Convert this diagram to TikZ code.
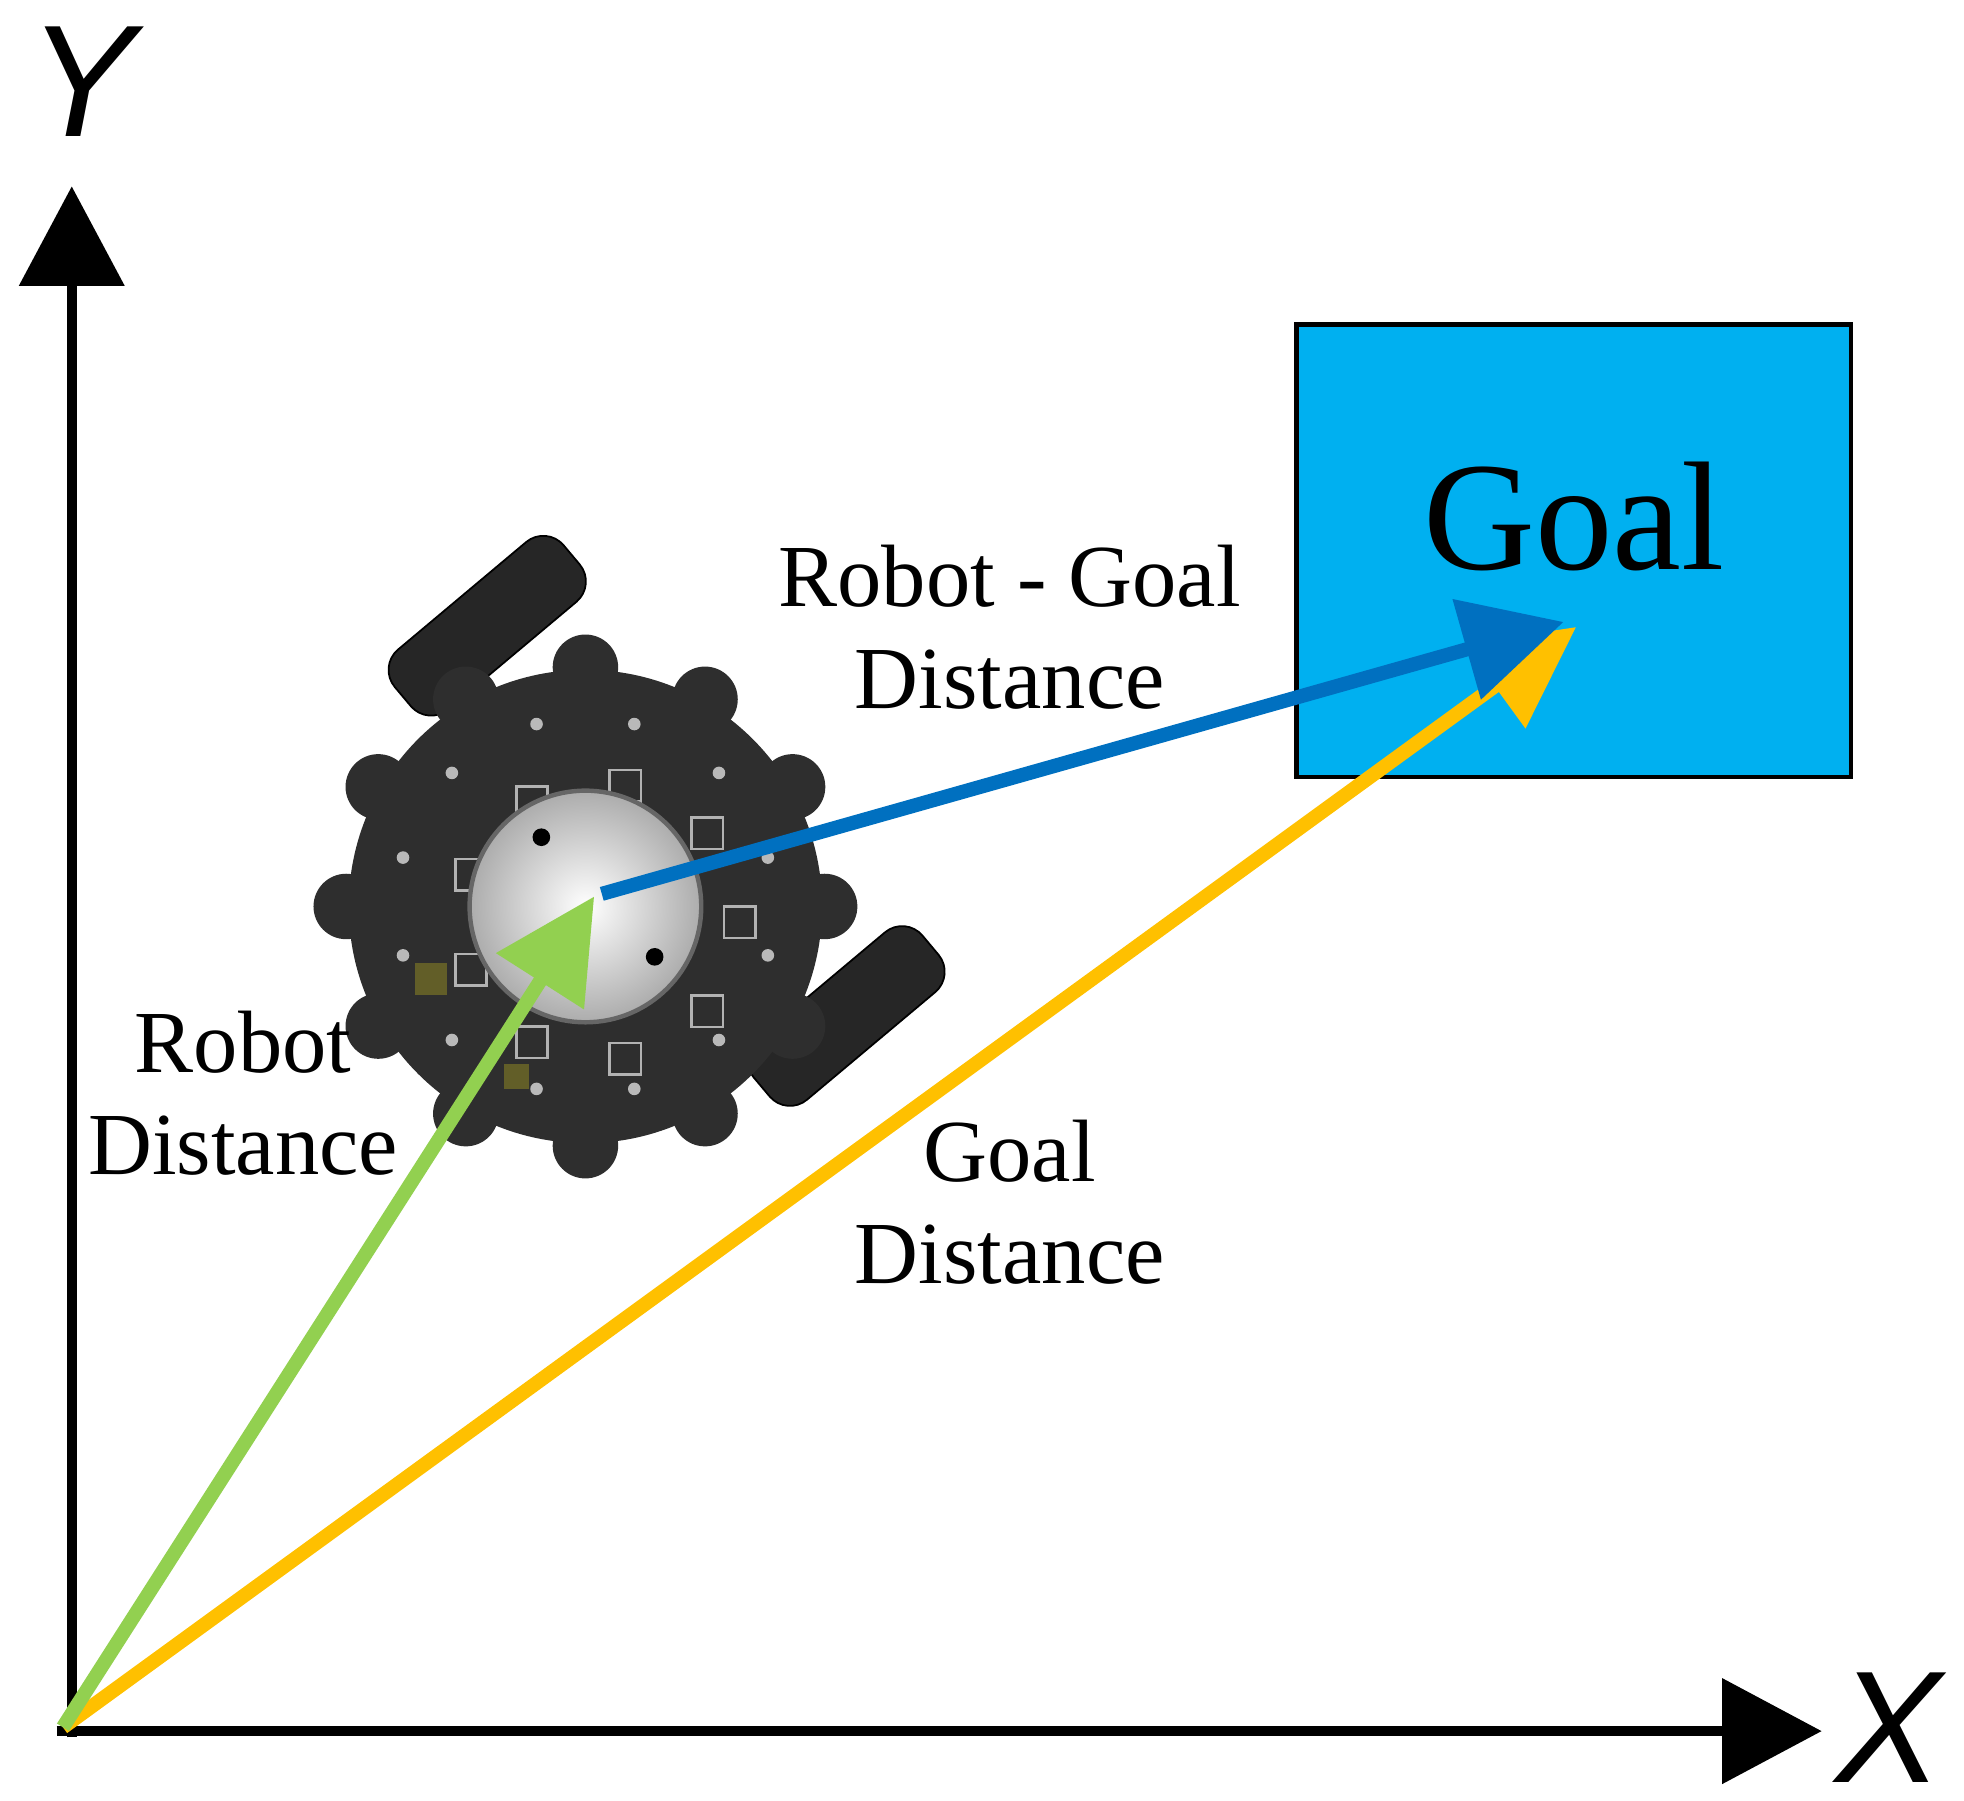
\documentclass[tikz,border=0pt]{standalone}
\usepackage{fontspec}
\setmainfont{Liberation Serif}
\newfontfamily\axfont{Liberation Sans}
\usetikzlibrary{arrows.meta}
\definecolor{goalc}{HTML}{00B0F0}
\definecolor{grn}{HTML}{92D050}
\definecolor{org}{HTML}{FFC000}
\definecolor{blu}{HTML}{0070C0}
\begin{document}
\begin{tikzpicture}[x=0.01cm,y=-0.01cm,
  axis/.style={line width=8pt*0.2845,-{Triangle[length=0.79cm,width=0.82cm]}},
  vec/.style={line width=3.2pt,-{Triangle[length=0.8cm,width=0.8cm]}},
  lbl/.style={font=\fontsize{20}{23}\selectfont,align=center},
  wheel/.style={fill=black!85,draw=black,rounded corners=6pt,minimum width=1.75cm,minimum height=0.62cm,rotate=40}]
\useasboundingbox (0,0) rectangle (1560,1430);
\coordinate (O) at (50,1372);
\coordinate (Ytip) at (57,148);
\coordinate (Xtip) at (1447,1375);
\draw[axis] (57,1380) -- (Ytip);
\draw[axis] (45,1375) -- (Xtip);
\node[font=\axfont\itshape\fontsize{36}{38}\selectfont] (Y) at (65,65) {Y};
\node[font=\axfont\itshape\fontsize{36}{38}\selectfont] (X) at (1500,1372) {X};
\node[draw=black,line width=1pt,fill=goalc,minimum width=4.4cm,minimum height=3.59cm,inner sep=0] (goal) at (1250,437.5) {};
\node[font=\fontsize{35}{38}\selectfont] (gt) at (1250,410) {Goal};
% robot
\node[wheel] (w1) at (387,497) {};
\node[wheel] (w2) at (672,807) {};
\begin{scope}[shift={(465,720)}]
  \fill[black!82] (0,0) circle (188);
  \foreach \a in {0,30,...,330}{\fill[black!82] (\a:190) circle (26);}
  \foreach \a in {15,45,...,345}{\fill[gray!55] (\a:150) circle (5);}
  \foreach \a in {0,40,...,320}{\draw[gray!60,line width=0.6pt] (\a:110) rectangle ++(25,25);}
  \shade[inner color=white,outer color=gray!65] (0,0) circle (92);
  \draw[black!60,line width=1pt] (0,0) circle (92);
  \fill[black] (-35,-55) circle (7) (55,40) circle (7);
  \fill[olive!60!black] (-135,45) rectangle (-110,70);
  \fill[olive!60!black] (-65,125) rectangle (-45,145);
\end{scope}
\coordinate (R) at (472,712);
\coordinate (G) at (1252,498);
\draw[vec,org] (O) -- (G);
\draw[vec,grn] (O) -- (R);
\draw[vec,blu] (478,710) -- (1242,494);
\node[lbl] (l1) at (802,498) {Robot - Goal\\Distance};
\node[lbl] (l2) at (193,868) {Robot\\Distance};
\node[lbl] (l3) at (802,955) {Goal\\Distance};
\end{tikzpicture}
\end{document}
